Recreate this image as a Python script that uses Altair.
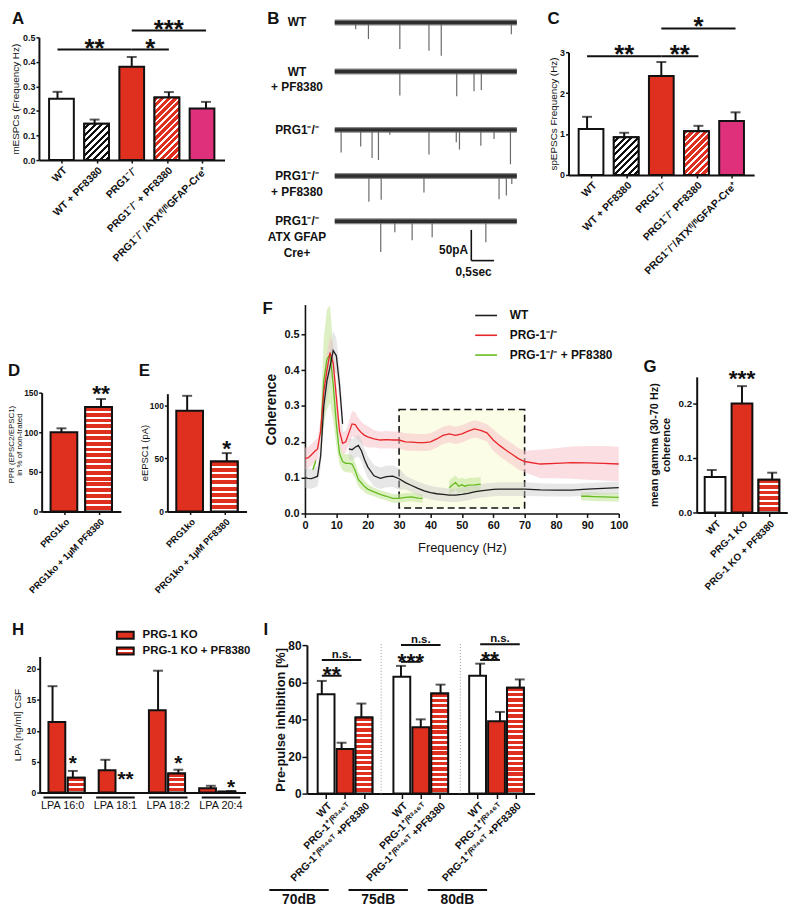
import json
import altair as alt
import pandas as pd

FONT = "Liberation Sans"
INK = "#111111"
RED = "#de2f1f"
PINK = "#df317b"
WIDTH, HEIGHT = 789, 904
MARGIN = 8

# ============================ DATA ============================
# A  mEPSC frequency
A_groups = ["WT", "WT + PF8380", "PRG1⁻/⁻", "PRG1⁻/⁻ + PF8380", "PRG1⁻/⁻ /ATXᶠˡ/ᶠˡGFAP-Cre⁺"]
A_mean = [0.250, 0.148, 0.380, 0.255, 0.210]
A_sem = [0.028, 0.017, 0.040, 0.022, 0.027]
A_sig_a = [0, 2, 2]
A_sig_b = [2, 3, 4]
A_sig_level = [0.450, 0.450, 0.528]
A_sig_text = ["**", "*", "***"]

# B  example traces (events: trace index, time [s], amplitude [pA])
B_traces = ["WT", "WT\n+ PF8380", "PRG1⁻/⁻", "PRG1⁻/⁻\n+ PF8380", "PRG1⁻/⁻\nATX GFAP\nCre+"]
B_trace_len_s = 4.0
B_offset_pA = [0, -80, -175, -250, -324]
B_ev_trace = [0, 0, 0, 0, 0, 0,
              1, 1, 1, 1,
              2, 2, 2, 2, 2, 2, 2, 2, 2, 2, 2,
              3, 3, 3, 3, 3, 3,
              4, 4, 4, 4, 4]
B_ev_time = [0.46, 0.74, 1.43, 2.07, 2.34, 3.88,
             1.43, 2.68, 3.06, 3.22,
             0.14, 0.57, 0.82, 0.96, 1.21, 2.07, 2.67, 2.74, 3.21, 3.50, 3.86,
             0.75, 1.02, 1.96, 3.61, 3.77, 3.89,
             1.01, 1.32, 1.70, 2.14, 3.32]
B_ev_amp = [11, 27, 43, 46, 54, 19,
            39, 40, 32, 30,
            37, 27, 46, 49, 8, 40, 20, 32, 26, 15, 56,
            42, 39, 27, 38, 32, 13,
            50, 18, 31, 26, 34]
B_scale_pA = 50
B_scale_s = 0.5

# C  spEPSC frequency
C_groups = ["WT", "WT + PF8380", "PRG1⁻/⁻", "PRG1⁻/⁻ PF8380", "PRG1⁻/⁻/ATXᶠˡ/ᶠˡGFAP-Cre⁺"]
C_mean = [1.12, 0.92, 2.42, 1.07, 1.32]
C_sem = [0.30, 0.11, 0.34, 0.13, 0.21]
C_sig_a = [0, 2, 2]
C_sig_b = [2, 3, 4]
C_sig_level = [2.90, 2.90, 3.58]
C_sig_text = ["**", "**", "*"]

# D  PPR
D_groups = ["PRG1ko", "PRG1ko + 1µM PF8380"]
D_mean = [100, 132]
D_sem = [5, 10]
D_star_x = [1]
D_star_y = [156]
D_star_text = ["**"]

# E  eEPSC1
E_groups = ["PRG1ko", "PRG1ko + 1µM PF8380"]
E_mean = [95, 47]
E_sem = [14, 8]
E_star_x = [1]
E_star_y = [64]
E_star_text = ["*"]

# F  coherence spectra
F_names = ["WT", "PRG-1⁻/⁻", "PRG-1⁻/⁻ + PF8380"]
F_freq = [0, 1, 2, 3, 4, 5, 6, 7, 8, 9, 10, 11, 12, 13, 14, 15, 16, 17, 18, 19, 20,
          22, 24, 26, 28, 30, 32, 34, 36, 38, 40, 42, 44, 46, 48, 50, 52, 54, 56, 58,
          60, 62, 64, 66, 68, 70, 75, 80, 85, 90, 95, 100]
F_wt = [0.100, 0.098, 0.097, 0.100, 0.104, 0.160, 0.300, 0.370, 0.410, 0.455, 0.440,
        0.360, 0.250, None, 0.180, 0.178, 0.185, 0.190, 0.175, 0.150, 0.130,
        0.105, 0.098, 0.103, 0.104, 0.097, 0.086, 0.078, 0.070, 0.063, 0.058, 0.055,
        0.053, 0.051, 0.051, 0.053, 0.056, 0.060, 0.063, 0.065,
        0.067, 0.068, 0.068, 0.068, 0.068, 0.068, 0.066, 0.065, 0.065, 0.068, 0.070, 0.072]
F_wt_sem = [0.028, 0.028, 0.028, 0.028, 0.028, 0.035, 0.045, 0.050, 0.050, 0.055, 0.050,
            0.045, 0.040, 0.0, 0.030, 0.030, 0.030, 0.030, 0.030, 0.030, 0.030,
            0.030, 0.030, 0.030, 0.030, 0.030, 0.019, 0.019, 0.019, 0.019, 0.019, 0.019,
            0.019, 0.019, 0.019, 0.019, 0.019, 0.019, 0.019, 0.019,
            0.019, 0.019, 0.019, 0.019, 0.019, 0.019, 0.018, 0.018, 0.018, 0.017, 0.017, 0.017]
F_prg = [0.154, 0.155, 0.163, 0.172, 0.180, 0.230, 0.340, 0.400, 0.449, 0.420, 0.325,
         0.230, 0.196, 0.200, 0.225, 0.250, 0.248, 0.235, 0.225, 0.218, 0.214,
         0.208, 0.205, 0.206, 0.205, 0.205, 0.200, 0.199, 0.198, 0.198, 0.200, 0.208,
         0.218, 0.222, 0.218, 0.222, 0.230, 0.236, 0.232, 0.225,
         0.205, 0.190, 0.177, 0.165, 0.153, 0.145, 0.138, 0.140, 0.142, 0.141, 0.140, 0.138]
F_prg_sem = [0.030, 0.030, 0.030, 0.030, 0.030, 0.035, 0.040, 0.045, 0.050, 0.045, 0.040,
             0.035, 0.030, 0.030, 0.032, 0.035, 0.035, 0.032, 0.030, 0.030, 0.030,
             0.024, 0.024, 0.024, 0.024, 0.024, 0.024, 0.024, 0.024, 0.024, 0.024, 0.024,
             0.024, 0.024, 0.024, 0.024, 0.024, 0.024, 0.024, 0.024,
             0.030, 0.030, 0.030, 0.030, 0.030, 0.030, 0.040, 0.042, 0.045, 0.047, 0.048, 0.048]
F_pf_freq = [2.5, 3.5, 4, 5, 6, 7, 8, 9, 10, 11, 12, 13, 14, 15, 16, 17, 18, 19, 20,
             22, 24, 26, 28, 30, 32, 34, 36, 37.5, 40,
             46, 47, 48, 49, 50, 51, 52, 54, 56, 60,
             88, 90, 92, 95, 100]
F_pf = [0.122, 0.148, None, 0.220, 0.370, 0.430, 0.445, 0.360, 0.250, 0.168, 0.145, 0.140,
        0.140, 0.138, 0.120, 0.095, 0.085, 0.075, 0.068,
        0.060, 0.053, 0.048, 0.042, 0.042, 0.045, 0.046, 0.043, 0.042, None,
        0.072, 0.080, 0.086, 0.076, 0.080, 0.076, 0.079, 0.080, 0.082, None,
        0.048, 0.048, 0.047, 0.046, 0.045]
F_pf_sem = [0.010, 0.010, 0.0, 0.060, 0.120, 0.140, 0.135, 0.100, 0.060, 0.030, 0.025, 0.025,
            0.025, 0.025, 0.022, 0.020, 0.018, 0.016, 0.015,
            0.012, 0.012, 0.012, 0.012, 0.012, 0.012, 0.012, 0.012, 0.012, 0.0,
            0.020, 0.020, 0.020, 0.020, 0.020, 0.020, 0.020, 0.020, 0.020, 0.0,
            0.012, 0.012, 0.012, 0.012, 0.012]
F_box_hz = [30, 70]
F_box_coh = [0.015, 0.29]

# G  mean gamma coherence
G_groups = ["WT", "PRG-1 KO", "PRG-1 KO + PF8380"]
G_mean = [0.065, 0.200, 0.060]
G_sem = [0.013, 0.032, 0.013]
G_star_x = [1]
G_star_y = [0.256]
G_star_text = ["***"]

# H  LPA in CSF
H_lipids = ["LPA 16:0", "LPA 18:1", "LPA 18:2", "LPA 20:4"]
H_series = ["PRG-1 KO", "PRG-1 KO + PF8380"]
H_ko_mean = [11.4, 3.6, 13.3, 0.7]
H_ko_sem = [5.8, 1.7, 6.4, 0.4]
H_pf_mean = [2.4, 0.0, 3.1, 0.15]
H_pf_sem = [1.1, 0.0, 0.6, 0.1]
H_star_text = ["*", "**", "*", "*"]
H_star_y = [5.4, 2.9, 5.4, 1.5]

# I  pre-pulse inhibition
I_levels = ["70dB", "75dB", "80dB"]
I_groups = ["WT", "PRG-1⁺/ᴿ³⁴⁶ᵀ", "PRG-1⁺/ᴿ³⁴⁶ᵀ +PF8380"]
I_wt_mean = [53.5, 63.0, 63.5]
I_wt_sem = [7.2, 5.8, 6.5]
I_ko_mean = [24.0, 35.7, 39.0]
I_ko_sem = [3.4, 4.3, 5.0]
I_pf_mean = [41.0, 53.9, 57.0]
I_pf_sem = [7.5, 4.8, 4.5]
I_ns_level = [72.0, 80.0, 80.5]
I_star_level = [63.5, 71.0, 72.0]
I_star_text = ["**", "***", "**"]

# ============================ LAYOUT (reference pixels) ============================
def P(v):
    return v - MARGIN


LAY_A = dict(xdom=(-0.5, 4.5), xpx=(39.25, 226.75), ytop=0.5, ypx=(157, 33),
             yticks=[0, 0.1, 0.2, 0.3, 0.4, 0.5], yfmt=".1f", title="mESPCs (Frequency Hz)",
             title_dx=-24, title_fs=10, title_w="normal", lab_fs=9, xlab_fs=10.5, bw=25, cap=10, tick=3)
LAY_C = dict(xdom=(-0.5, 4.5), xpx=(574.25, 761.75), ytop=3, ypx=(172, 48),
             yticks=[0, 1, 2, 3], yfmt="d", title="spEPSCs Frequency (Hz)",
             title_dx=-15, title_fs=10, title_w="normal", lab_fs=9, xlab_fs=10.5, bw=25, cap=10, tick=3)
LAY_D = dict(xdom=(-0.5, 1.5), xpx=(42, 122), ytop=150, ypx=(512, 392),
             yticks=[0, 50, 100, 150], yfmt="d", title=["PPR (EPSC2/EPSC1)", "in % of non-trated"],
             title_dx=-30.5, title_y=444, title_fs=8, title_lh=8.5, title_w="normal", lab_fs=8.5,
             xlab_fs=9.5, bw=27, cap=10, tick=3)
LAY_E = dict(xdom=(-0.5, 1.5), xpx=(169, 249), ytop=111, ypx=(512, 393),
             yticks=[0, 50, 100], yfmt="d", title="eEPSC1 (pA)",
             title_dx=-23, title_fs=9.5, title_w="normal", lab_fs=8.5, xlab_fs=9.5, bw=27, cap=10, tick=3)
LAY_G = dict(xdom=(-0.5, 2.5), xpx=(703.75, 795.25), ytop=0.249, ypx=(513, 376),
             yticks=[0, 0.1, 0.2], yfmt=".1f", title=["mean gamma (30-70 Hz)", "coherence"],
             title_dx=-43, title_fs=11, title_w="bold", lab_fs=10, xlab_fs=10, bw=21, cap=10, tick=4)
LAY_H = dict(xdom=(-13 / 20.5, 195 / 20.5), xpx=(40, 248), ytop=22, ypx=(796, 658.5),
             yticks=[0, 5, 10, 15, 20], yfmt="d", title="LPA [ng/ml] CSF",
             title_dx=-22, title_fs=10, title_w="normal", lab_fs=8.5, xlab_fs=9, bw=17, cap=10, tick=3,
             group_step=2.6, gline_y=-0.8, glabel_y=-2.1, gline_half=0.95)
LAY_I = dict(xdom=(-0.75, 10.75), xpx=(310, 540), ytop=80, ypx=(797, 647),
             yticks=[0, 20, 40, 60, 80], yfmt="d", title="Pre-pulse inhibition [%]",
             title_dx=-27, title_fs=13, title_w="bold", lab_fs=12, xlab_fs=10.5, bw=17, cap=10, tick=5,
             group_step=4, sep_top=81, gline_y=-52, glabel_y=-57.5, gline_shift=-1.15, gline_half=1.5)
LAY_B = dict(tdom=(-1.59, 4.13), xpx=(265, 528), pAdom=(-422.6, 21.0), ypx=(280, 5),
             label_t=-0.83, sb_t=3.0, sb_y=-388, lab1=(2.93, -371), lab2=(3.05, -406))
LAY_F = dict(xpx=(308, 625), ypx=(514, 303), ytop=0.583)
LETTERS = ["A", "B", "C", "D", "E", "F", "G", "H", "I"]
LETTER_X = [12, 270, 553, 8, 140, 265, 650, 12, 266]
LETTER_Y = [20, 20, 20, 375, 375, 313, 371, 637, 637]
STAR_DY = 0.25

# ============================ HELPERS ============================
layers = []


def add(ch):
    layers.append(ch)


def X(field, scale):
    return alt.X(f"{field}:Q", scale=scale, axis=None)


def Y(field, scale):
    return alt.Y(f"{field}:Q", scale=scale, axis=None)


def scales(xdom, xpx, ydom, ypx):
    xs = alt.Scale(domain=list(xdom), range=[P(xpx[0]), P(xpx[1])], nice=False, zero=False)
    ys = alt.Scale(domain=list(ydom), range=[P(ypx[0]), P(ypx[1])], nice=False, zero=False)
    return xs, ys


def y_axis(lay, dom_w=2):
    kw = dict(orient="left", offset=-P(lay["xpx"][0]), values=lay["yticks"], format=lay["yfmt"],
              grid=False, domainColor=INK, domainWidth=dom_w, tickColor=INK, tickWidth=1.5,
              tickSize=lay["tick"], labelFont=FONT, labelFontSize=lay["lab_fs"], labelFontWeight="bold",
              labelColor=INK, labelPadding=1, labelFlush=False, labelOverlap=False,
              title=lay["title"], titleFont=FONT, titleFontSize=lay["title_fs"],
              titleFontWeight=lay["title_w"], titleColor=INK, titleX=lay["title_dx"],
              titleBaseline="middle", titleAngle=270,
              titleLineHeight=lay.get("title_lh", lay["title_fs"] + 1.5))
    if "title_y" in lay:
        kw["titleY"] = P(lay["title_y"])
    return alt.Axis(**kw)


def x_axis(lay, pos, names, dom_w=2):
    kw = dict(orient="bottom", offset=P(lay["ypx"][0]) - HEIGHT, values=list(pos), title=None,
              grid=False, domainColor=INK, domainWidth=dom_w, tickColor=INK, tickWidth=1.5,
              labelFlush=False, labelOverlap=False)
    if names is None:
        kw.update(labels=False, ticks=False)
    else:
        expr = f"{json.dumps(names, ensure_ascii=False)}[indexof({json.dumps(list(pos))}, datum.value)]"
        kw.update(tickSize=lay["tick"], labelExpr=expr, labelAngle=315, labelAlign="right",
                  labelBaseline="top", labelFont=FONT, labelFontSize=lay["xlab_fs"],
                  labelFontWeight="bold", labelColor=INK, labelPadding=2, labelLimit=400)
    return alt.Axis(**kw)


def stripe_stops(n, base, stripe, frac):
    n = max(n, 1.0)
    step = 1.0 / n
    stops = []
    k = 0
    while k * step < 1:
        a = k * step
        b = min(1.0, (k + 1 - frac) * step)
        c = min(1.0, (k + 1) * step)
        stops += [{"offset": round(a, 5), "color": base}, {"offset": round(b, 5), "color": base},
                  {"offset": round(b, 5), "color": stripe}, {"offset": round(c, 5), "color": stripe}]
        k += 1
    return stops


def diag_fill(w, h, base, stripe, period, frac):
    # gradient vector chosen so that the iso-lines run at 45 degrees in pixel space
    s = (w + h) * w / (w * w + h * h)
    return {"gradient": "linear", "x1": 0, "y1": 0, "x2": s, "y2": s * h / w,
            "stops": stripe_stops((w + h) / period, base, stripe, frac)}


def horiz_fill(h, base, stripe, period, frac):
    return {"gradient": "linear", "x1": 0, "y1": 0, "x2": 0, "y2": 1,
            "stops": stripe_stops(round(h / period), base, stripe, frac)}


def bar_panel(names, pos, mean, sem, fills, hatches, lay, show_names=True):
    xs, ys = scales(lay["xdom"], lay["xpx"], (0, lay["ytop"]), lay["ypx"])
    top = [m + s for m, s in zip(mean, sem)]
    df = pd.DataFrame({"pos": pos, "mean": mean, "top": top, "fill": fills})
    err = df[df["top"] > df["mean"]]
    add(alt.Chart(err).mark_rule(color=INK, strokeWidth=2).encode(
        x=X("pos", xs), y=Y("mean", ys), y2="top"))
    add(alt.Chart(err).mark_tick(orient="horizontal", size=lay["cap"], thickness=2, color=INK).encode(
        x=X("pos", xs), y=Y("top", ys)))
    bars = df[df["mean"] > 0]
    add(alt.Chart(bars).mark_bar(orient="vertical", size=lay["bw"], stroke=INK, strokeWidth=2).encode(
        x=alt.X("pos:Q", scale=xs, axis=x_axis(lay, pos, names if show_names else None)),
        y=alt.Y("mean:Q", scale=ys, axis=y_axis(lay)),
        fill=alt.Fill("fill:N", scale=None)))
    ppu = (lay["ypx"][0] - lay["ypx"][1]) / lay["ytop"]
    for i, h in enumerate(hatches):
        if h is None or mean[i] <= 0:
            continue
        kind, base, stripe, period, frac = h
        hpx = mean[i] * ppu
        if kind == "diag":
            grad = diag_fill(lay["bw"], hpx, base, stripe, period, frac)
        else:
            grad = horiz_fill(hpx, base, stripe, period, frac)
        add(alt.Chart(df.iloc[[i]]).mark_bar(orient="vertical", size=lay["bw"], stroke=INK,
                                             strokeWidth=2, fill=grad).encode(
            x=X("pos", xs), y=Y("mean", ys)))
    return xs, ys


def star_text(xs, ys, xv, yv, txt, fs, extra_dy=0.0):
    df = pd.DataFrame({"x": xv, "y": yv, "t": txt})
    add(alt.Chart(df).mark_text(font=FONT, fontSize=fs, fontWeight="bold", color=INK,
                                baseline="middle", align="center",
                                dy=round(STAR_DY * fs + extra_dy, 1)).encode(
        x=X("x", xs), y=Y("y", ys), text="t:N"))


def sig_lines(xs, ys, a, b, lvl, txt, fs, gap, stars=True):
    df = pd.DataFrame({"a": a, "b": b, "lvl": lvl, "t": txt})
    add(alt.Chart(df).mark_rule(color=INK, strokeWidth=2).encode(
        x=X("a", xs), x2="b", y=Y("lvl", ys)))
    if stars:
        mk = dict(baseline="middle", dy=round(STAR_DY * fs - gap, 1))
    else:
        mk = dict(baseline="alphabetic", dy=-gap)
    add(alt.Chart(df).transform_calculate(mid="(datum.a + datum.b) / 2").mark_text(
        font=FONT, fontSize=fs, fontWeight="bold", color=INK, align="center", **mk).encode(
        x=X("mid", xs), y=Y("lvl", ys), text="t:N"))


DIAG_BW = ("diag", "white", INK, 6.7, 0.45)
DIAG_RW = ("diag", RED, "white", 6.7, 0.35)

# ============================ PANEL A ============================
xs, ys = bar_panel(A_groups, [0, 1, 2, 3, 4], A_mean, A_sem,
                   ["white", "white", RED, RED, PINK], [None, DIAG_BW, None, DIAG_RW, None], LAY_A)
sig_lines(xs, ys, A_sig_a, A_sig_b, A_sig_level, A_sig_text, 26, 7)

# ============================ PANEL C ============================
xs, ys = bar_panel(C_groups, [0, 1, 2, 3, 4], C_mean, C_sem,
                   ["white", "white", RED, RED, PINK], [None, DIAG_BW, None, DIAG_RW, None], LAY_C)
sig_lines(xs, ys, C_sig_a, C_sig_b, C_sig_level, C_sig_text, 26, 8)

# ============================ PANEL D / E ============================
xs, ys = bar_panel(D_groups, [0, 1], D_mean, D_sem, [RED, RED],
                   [None, ("h", RED, "white", 6.0, 0.33)], LAY_D)
star_text(xs, ys, D_star_x, D_star_y, D_star_text, 23)
xs, ys = bar_panel(E_groups, [0, 1], E_mean, E_sem, [RED, RED],
                   [None, ("h", RED, "white", 6.0, 0.33)], LAY_E)
star_text(xs, ys, E_star_x, E_star_y, E_star_text, 23)

# ============================ PANEL G ============================
xs, ys = bar_panel(G_groups, [0, 1, 2], G_mean, G_sem, ["white", RED, RED],
                   [None, None, ("h", RED, "white", 5.5, 0.35)], LAY_G)
star_text(xs, ys, G_star_x, G_star_y, G_star_text, 23)

# ============================ PANEL H ============================
H_pos, H_mean, H_sem, H_fill, H_hatch = [], [], [], [], []
for g in range(len(H_lipids)):
    for b, (m, s) in enumerate([(H_ko_mean[g], H_ko_sem[g]), (H_pf_mean[g], H_pf_sem[g])]):
        H_pos.append(round(g * LAY_H["group_step"] + b, 3))
        H_mean.append(m)
        H_sem.append(s)
        H_fill.append(RED)
        H_hatch.append(None if b == 0 else ("h", RED, "white", 5.5, 0.35))
xs, ys = bar_panel(None, H_pos, H_mean, H_sem, H_fill, H_hatch, LAY_H, show_names=False)
star_text(xs, ys, [H_pos[2 * g + 1] for g in range(4)], H_star_y, H_star_text, 21)
hg = pd.DataFrame({"lab": H_lipids,
                   "c": [g * LAY_H["group_step"] + 0.5 for g in range(4)]})
add(alt.Chart(hg).transform_calculate(
    a=f"datum.c - {LAY_H['gline_half']}", b=f"datum.c + {LAY_H['gline_half']}",
    ly=f"{LAY_H['gline_y']}").mark_rule(color=INK, strokeWidth=2).encode(
    x=X("a", xs), x2="b", y=Y("ly", ys)))
add(alt.Chart(hg).transform_calculate(ly=f"{LAY_H['glabel_y']}").mark_text(
    font=FONT, fontSize=11, color=INK, baseline="middle", align="center").encode(
    x=X("c", xs), y=Y("ly", ys), text="lab:N"))
# legend of H (swatches drawn in pixel space)
hl = pd.DataFrame({"lab": H_series, "x1": [P(118), P(118)], "x2": [P(135), P(135)],
                   "y1": [P(633.5), P(649.5)], "y2": [P(640.5), P(656.5)],
                   "tx": [P(144), P(144)], "ty": [P(637), P(653)]})
add(alt.Chart(hl.iloc[[0]]).mark_rect(fill=RED, stroke=INK, strokeWidth=2).encode(
    x=alt.X("x1:Q", scale=None, axis=None), x2="x2", y=alt.Y("y1:Q", scale=None, axis=None), y2="y2"))
add(alt.Chart(hl.iloc[[1]]).mark_rect(
    fill={"gradient": "linear", "x1": 0, "y1": 0, "x2": 0, "y2": 1,
          "stops": [{"offset": 0, "color": RED}, {"offset": 0.38, "color": RED},
                    {"offset": 0.38, "color": "white"}, {"offset": 0.62, "color": "white"},
                    {"offset": 0.62, "color": RED}, {"offset": 1, "color": RED}]},
    stroke=INK, strokeWidth=2).encode(
    x=alt.X("x1:Q", scale=None, axis=None), x2="x2", y=alt.Y("y1:Q", scale=None, axis=None), y2="y2"))
add(alt.Chart(hl).mark_text(font=FONT, fontSize=11.5, fontWeight="bold", color=INK,
                            align="left", baseline="middle").encode(
    x=alt.X("tx:Q", scale=None, axis=None), y=alt.Y("ty:Q", scale=None, axis=None), text="lab:N"))

# ============================ PANEL I ============================
I_pos, I_mean, I_sem, I_fill, I_hatch, I_names = [], [], [], [], [], []
for g in range(len(I_levels)):
    trio = [(I_wt_mean[g], I_wt_sem[g], "white", None),
            (I_ko_mean[g], I_ko_sem[g], RED, None),
            (I_pf_mean[g], I_pf_sem[g], RED, ("h", RED, "white", 5.4, 0.36))]
    for b, (m, s, f, h) in enumerate(trio):
        I_pos.append(g * LAY_I["group_step"] + b)
        I_mean.append(m)
        I_sem.append(s)
        I_fill.append(f)
        I_hatch.append(h)
        I_names.append(I_groups[b])
xs, ys = bar_panel(I_names, I_pos, I_mean, I_sem, I_fill, I_hatch, LAY_I)
firsts = [g * LAY_I["group_step"] for g in range(3)]
sig_lines(xs, ys, firsts, [f + 2 for f in firsts], I_ns_level, ["n.s."] * 3, 11.5, 2, stars=False)
sig_lines(xs, ys, firsts, [f + 1 for f in firsts], I_star_level, I_star_text, 23, 6)
sep = pd.DataFrame({"x": [firsts[1] - 1, firsts[2] - 1], "y0": [0, 0],
                    "y1": [LAY_I["sep_top"], LAY_I["sep_top"]]})
add(alt.Chart(sep).mark_rule(color="#9a9a9a", strokeWidth=1, strokeDash=[1, 2]).encode(
    x=X("x", xs), y=Y("y0", ys), y2="y1"))
ig = pd.DataFrame({"lab": I_levels, "c": [f + LAY_I["gline_shift"] for f in firsts]})
add(alt.Chart(ig).transform_calculate(
    a=f"datum.c - {LAY_I['gline_half']}", b=f"datum.c + {LAY_I['gline_half']}",
    ly=f"{LAY_I['gline_y']}").mark_rule(color=INK, strokeWidth=2).encode(
    x=X("a", xs), x2="b", y=Y("ly", ys)))
add(alt.Chart(ig).transform_calculate(ly=f"{LAY_I['glabel_y']}").mark_text(
    font=FONT, fontSize=14, fontWeight="bold", color=INK, baseline="middle", align="center").encode(
    x=X("c", xs), y=Y("ly", ys), text="lab:N"))

# ============================ PANEL B ============================
bxs, bys = scales(LAY_B["tdom"], LAY_B["xpx"], LAY_B["pAdom"], LAY_B["ypx"])
bdf = pd.DataFrame({"name": B_traces, "off": B_offset_pA, "t0": 0.0, "t1": B_trace_len_s,
                    "tl": LAY_B["label_t"]})
ev = pd.DataFrame({"t": B_ev_time, "amp": B_ev_amp, "off": [B_offset_pA[i] for i in B_ev_trace]})
add(alt.Chart(ev).transform_calculate(low="datum.off - datum.amp").mark_rule(
    color="#6a6a6a", strokeWidth=1.2).encode(x=X("t", bxs), y=Y("off", bys), y2="low"))
add(alt.Chart(bdf).mark_rule(color="#6a6a6a", strokeWidth=6, opacity=0.8).encode(
    x=X("t0", bxs), x2="t1", y=Y("off", bys)))
add(alt.Chart(bdf).mark_rule(color="#2e2e2e", strokeWidth=3.5).encode(
    x=X("t0", bxs), x2="t1", y=Y("off", bys)))
add(alt.Chart(bdf).mark_text(font=FONT, fontSize=12, fontWeight="bold", color=INK, lineBreak="\n",
                             lineHeight=16, align="center", baseline="middle").encode(
    x=X("tl", bxs), y=Y("off", bys), text="name:N"))
st, sy = LAY_B["sb_t"], LAY_B["sb_y"]
sb = pd.DataFrame({"t0": [st, st], "t1": [st, st + B_scale_s],
                   "y0": [sy, sy], "y1": [sy + B_scale_pA, sy]})
add(alt.Chart(sb).mark_rule(color=INK, strokeWidth=1.6).encode(
    x=X("t0", bxs), x2="t1", y=Y("y0", bys), y2="y1"))
sbl = pd.DataFrame({"t": [LAY_B["lab1"][0], LAY_B["lab2"][0]], "y": [LAY_B["lab1"][1], LAY_B["lab2"][1]],
                    "s": [f"{B_scale_pA}pA", str(B_scale_s).replace(".", ",") + "sec"]})
add(alt.Chart(sbl.iloc[[0]]).mark_text(font=FONT, fontSize=12, fontWeight="bold", color=INK,
                                       align="right", baseline="middle").encode(
    x=X("t", bxs), y=Y("y", bys), text="s:N"))
add(alt.Chart(sbl.iloc[[1]]).mark_text(font=FONT, fontSize=12, fontWeight="bold", color=INK,
                                       align="center", baseline="middle").encode(
    x=X("t", bxs), y=Y("y", bys), text="s:N"))

# ============================ PANEL F ============================
fxs, fys = scales((0, 100), LAY_F["xpx"], (0, LAY_F["ytop"]), LAY_F["ypx"])
box = pd.DataFrame({"x1": [F_box_hz[0]], "x2": [F_box_hz[1]], "y1": [F_box_coh[0]], "y2": [F_box_coh[1]]})
add(alt.Chart(box).mark_rect(fill="#fcfde6", stroke=INK, strokeWidth=1.6, strokeDash=[7, 4]).encode(
    x=X("x1", fxs), x2="x2", y=Y("y1", fys), y2="y2"))


def curve_df(name, freq, vals, sems):
    rows, seg = [], 0
    for f, v, s in zip(freq, vals, sems):
        if v is None:
            seg += 1
            continue
        rows.append({"curve": name, "f": f, "v": v, "lo": v - s, "hi": v + s, "seg": f"{name}-{seg}"})
    return pd.DataFrame(rows)


F_line_colors = ["#1e1e1e", "#e8262a", "#66bb22"]
F_band_colors = ["#c9c9c9", "#f6c3ca", "#c4e69c"]
F_band_alpha = [0.45, 0.55, 0.6]
cwt = curve_df(F_names[0], F_freq, F_wt, F_wt_sem)
cprg = curve_df(F_names[1], F_freq, F_prg, F_prg_sem)
cpf = curve_df(F_names[2], F_pf_freq, F_pf, F_pf_sem)
for d, i in [(cpf, 2), (cprg, 1), (cwt, 0)]:
    add(alt.Chart(d).mark_area(color=F_band_colors[i], opacity=F_band_alpha[i]).encode(
        x=X("f", fxs), y=Y("lo", fys), y2="hi", detail="seg:N"))
for d, i in [(cpf, 2), (cprg, 1)]:
    add(alt.Chart(d).mark_line(color=F_line_colors[i], strokeWidth=1.3).encode(
        x=X("f", fxs), y=Y("v", fys), detail="seg:N"))
f_xaxis = alt.Axis(orient="bottom", offset=P(LAY_F["ypx"][0]) - HEIGHT, values=list(range(0, 101, 10)),
                   grid=False, domainColor=INK, domainWidth=1.6, tickColor=INK, tickWidth=1.5, tickSize=4,
                   labelFont=FONT, labelFontSize=11, labelFontWeight="bold", labelColor=INK,
                   labelFlush=False, labelOverlap=False, labelPadding=2,
                   title="Frequency (Hz)", titleFont=FONT, titleFontSize=13, titleFontWeight="normal",
                   titleColor=INK, titleY=34, titleBaseline="middle")
f_yaxis = alt.Axis(orient="left", offset=-P(LAY_F["xpx"][0]), values=[0, 0.1, 0.2, 0.3, 0.4, 0.5],
                   format=".1f", grid=False, domainColor=INK, domainWidth=1.6, tickColor=INK,
                   tickWidth=1.5, tickSize=4, labelFont=FONT, labelFontSize=11, labelFontWeight="bold",
                   labelColor=INK, labelPadding=2, labelFlush=False, labelOverlap=False,
                   title="Coherence", titleFont=FONT, titleFontSize=14, titleFontWeight="bold",
                   titleColor=INK, titleX=-34, titleBaseline="middle", titleAngle=270)
add(alt.Chart(cwt).mark_line(strokeWidth=1.3).encode(
    x=alt.X("f:Q", scale=fxs, axis=f_xaxis),
    y=alt.Y("v:Q", scale=fys, axis=f_yaxis),
    stroke=alt.Stroke("curve:N", scale=alt.Scale(domain=F_names, range=F_line_colors),
                      legend=alt.Legend(orient="none", legendX=P(479), legendY=P(302), title=None,
                                        symbolType="stroke", symbolSize=484, symbolStrokeWidth=1.6,
                                        labelFont=FONT, labelFontSize=12, labelFontWeight="bold",
                                        labelColor=INK, labelOffset=12, rowPadding=2)),
    detail="seg:N"))

# ============================ PANEL LETTERS ============================
lt = pd.DataFrame({"t": LETTERS, "x": [P(v) for v in LETTER_X], "y": [P(v) for v in LETTER_Y]})
add(alt.Chart(lt).mark_text(font=FONT, fontSize=17, fontWeight="bold", color=INK,
                            align="left", baseline="alphabetic").encode(
    x=alt.X("x:Q", scale=None, axis=None), y=alt.Y("y:Q", scale=None, axis=None), text="t:N"))

chart = alt.layer(*layers).resolve_scale(x="independent", y="independent").resolve_axis(
    x="independent", y="independent").properties(
    width=WIDTH, height=HEIGHT, autosize=alt.AutoSizeParams(type="none"), padding=0,
    background="white").configure(font=FONT).configure_view(strokeWidth=0)

chart.save("out.html", embed_options={"renderer": "svg", "actions": False})
